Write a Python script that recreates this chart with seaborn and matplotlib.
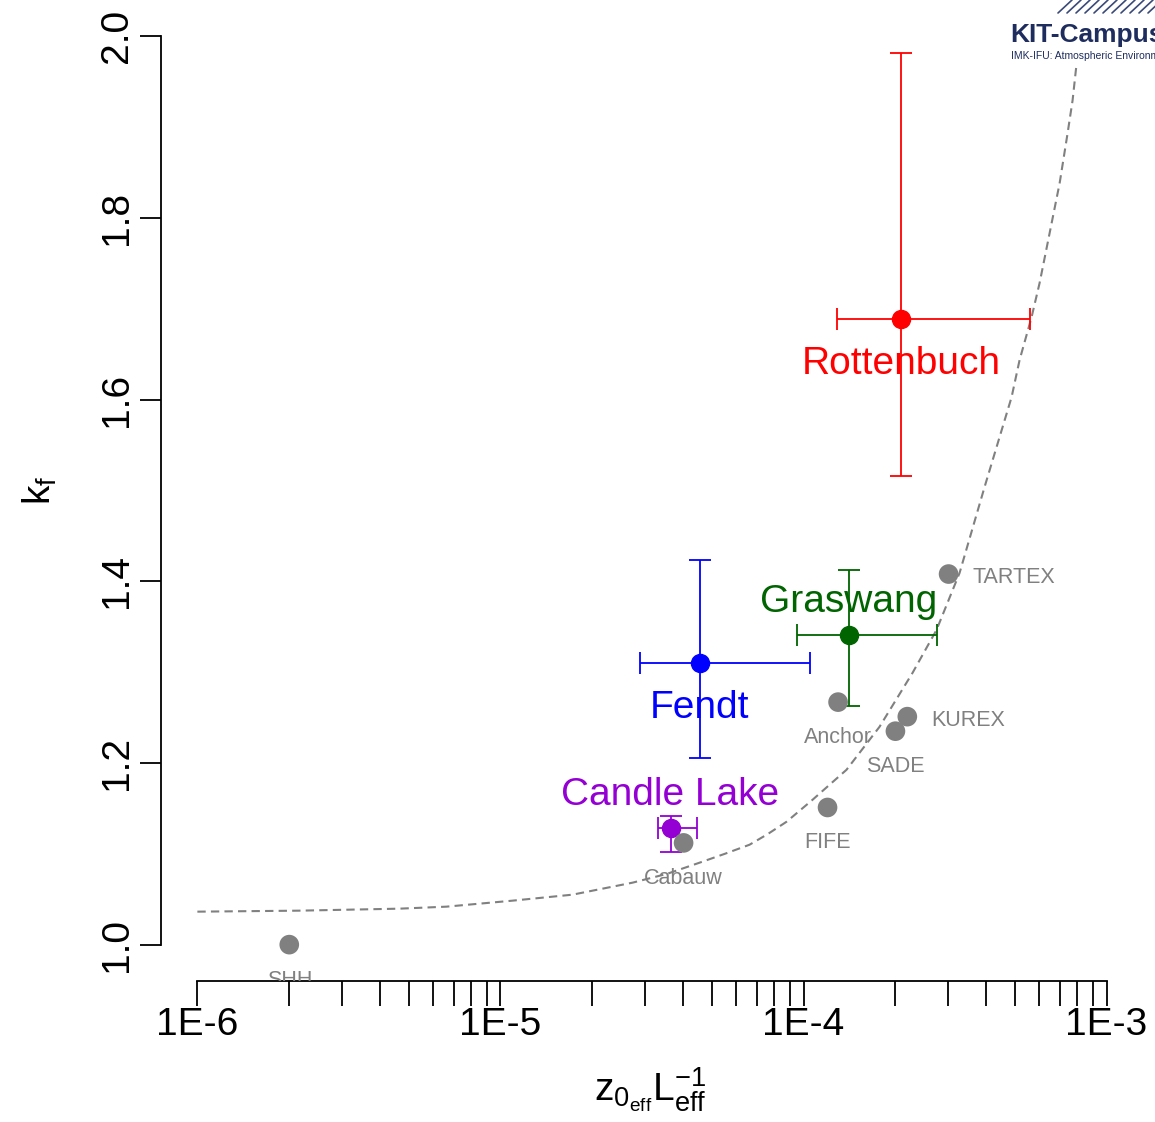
import numpy as np
import pandas as pd
import matplotlib
matplotlib.use("Agg")
import matplotlib.pyplot as plt
import seaborn as sns
from matplotlib.lines import Line2D

sns.set_style("white")
plt.rcParams['font.family'] = ['Liberation Sans', 'DejaVu Sans']
plt.rcParams['mathtext.default'] = 'regular'
plt.rcParams['text.color'] = 'black'
plt.rcParams['axes.labelcolor'] = 'black'
plt.rcParams['xtick.color'] = 'black'
plt.rcParams['ytick.color'] = 'black'

# eigene Standorte (mit Fehlerbalken)
sites = ['Rottenbuch', 'Graswang', 'Fendt', 'Candle Lake']
site_colors = ['#ff0000', '#006400', '#0000ff', '#9400d3']
site_z0L = [2.10e-4, 1.41e-4, 4.54e-5, 3.64e-5]
site_z0L_lo = [1.285e-4, 9.5e-5, 2.88e-5, 3.32e-5]
site_z0L_hi = [5.57e-4, 2.75e-4, 1.054e-4, 4.44e-5]
site_kf = [1.689, 1.341, 1.310, 1.128]
site_kf_lo = [1.516, 1.263, 1.206, 1.102]
site_kf_hi = [1.982, 1.4125, 1.4235, 1.142]
site_label_pos = ['below', 'above', 'below', 'above']

# Literaturwerte
lit = ['SHH', 'Cabauw', 'FIFE', 'Anchor', 'SADE', 'KUREX', 'TARTEX']
lit_z0L = [2.01e-6, 4.02e-5, 1.20e-4, 1.30e-4, 2.01e-4, 2.20e-4, 3.01e-4]
lit_kf = [1.000, 1.112, 1.151, 1.267, 1.235, 1.251, 1.408]
lit_label_pos = ['below', 'below', 'below', 'below', 'below', 'right', 'right']

# Kurve (gestrichelt)
curve_z0L = [1.0e-6, 2.17e-6, 4.64e-6, 6.63e-6, 1.095e-5, 1.728e-5, 2.726e-5,
             3.55e-5, 4.537e-5, 5.5e-5, 6.635e-5, 7.6e-5, 8.79e-5, 1.071e-4,
             1.386e-4, 1.781e-4, 2.289e-4, 2.747e-4, 3.272e-4, 3.957e-4,
             4.859e-4, 5.162e-4, 5.655e-4, 6.009e-4, 6.485e-4, 6.998e-4,
             7.434e-4, 7.722e-4, 7.962e-4]
curve_kf = [1.0363, 1.0374, 1.0396, 1.0418, 1.0484, 1.0550, 1.0682,
            1.0780, 1.0902, 1.1000, 1.1100, 1.1215, 1.1353, 1.1595,
            1.1925, 1.2398, 1.2992, 1.3465, 1.4092, 1.5039,
            1.6029, 1.6436, 1.6909, 1.7283, 1.7833, 1.8383,
            1.8933, 1.9296, 1.9703]

x_major = [1e-6, 1e-5, 1e-4, 1e-3]
x_major_labels = ['1E-6', '1E-5', '1E-4', '1E-3']
y_ticks = [1.0, 1.2, 1.4, 1.6, 1.8, 2.0]
y_tick_labels = ['1.0', '1.2', '1.4', '1.6', '1.8', '2.0']

fig = plt.figure(figsize=(11.55, 11.22), dpi=100)
ax = fig.add_axes([0.1394, 0.1257, 0.8502, 0.8743])
ax.set_xscale('log')
ax.set_xlim(10 ** -6.12, 10 ** -2.88)
ax.set_ylim(0.96, 2.04)

sns.lineplot(x=curve_z0L, y=curve_kf, sort=False, estimator=None, color='#808080',
             lw=1.5, linestyle=(0, (4, 2.5)), ax=ax, zorder=1)

for name, c, x, xlo, xhi, y, ylo, yhi in zip(sites, site_colors, site_z0L, site_z0L_lo,
                                              site_z0L_hi, site_kf, site_kf_lo, site_kf_hi):
    ax.errorbar([x], [y], xerr=[[x - xlo], [xhi - x]], yerr=[[y - ylo], [yhi - y]],
                fmt='o', color=c, mec=c, ms=13, elinewidth=1.3, capsize=8, capthick=1.3,
                zorder=2)

sns.scatterplot(x=lit_z0L, y=lit_kf, color='#808080', s=200, edgecolor='none',
                ax=ax, zorder=3)

for name, c, x, y, pos in zip(sites, site_colors, site_z0L, site_kf, site_label_pos):
    off = (0, -39.5) if pos == 'below' else (0, 16.5)
    ax.annotate(name, (x, y), xytext=off, textcoords='offset points', ha='center',
                va='baseline', fontsize=28, color=c, zorder=4)

for name, x, y, pos in zip(lit, lit_z0L, lit_kf, lit_label_pos):
    if pos == 'below':
        off, ha = (0, -29.5), 'center'
    else:
        off, ha = (17, -6.5), 'left'
    ax.annotate(name, (x, y), xytext=off, textcoords='offset points', ha=ha,
                va='baseline', fontsize=15.5, color='#808080', clip_on=True, zorder=4)

# Achsen im R-Stil
minor = [m * d for d in [1e-6, 1e-5, 1e-4] for m in range(2, 10)]
ax.set_xticks(x_major, x_major_labels)
ax.set_xticks(minor, minor=True)
ax.xaxis.set_minor_formatter(matplotlib.ticker.NullFormatter())
ax.tick_params(axis='x', which='both', bottom=True, length=18, width=1.3,
               direction='out', labelsize=28, pad=1)
ax.set_yticks(y_ticks, y_tick_labels)
ax.tick_params(axis='y', left=True, length=15, width=1.3, direction='out',
               labelsize=28, pad=4)
for lbl in ax.get_yticklabels():
    lbl.set_rotation(90)
    lbl.set_va('center')

for s in ['top', 'right']:
    ax.spines[s].set_visible(False)
ax.spines['left'].set_bounds(1.0, 2.0)
ax.spines['bottom'].set_bounds(1e-6, 1e-3)
for s in ['left', 'bottom']:
    ax.spines[s].set_linewidth(1.3)
    ax.spines[s].set_color('black')

ax.set_ylabel('$k_f$', fontsize=28, va='center')
ax.yaxis.set_label_coords(-0.123, 0.5)
ax.set_xlabel(r'$z_{0_{eff}}L_{eff}^{-1}$', fontsize=28, va='center')
ax.xaxis.set_label_coords(0.498, -0.111)

# Logo oben rechts (im Original am Rand abgeschnitten)
fig.text(1010 / 1155, 1 - 42 / 1122, 'KIT-Campus', fontsize=19, fontweight='bold',
         color='#1e2d5e', ha='left', va='baseline')
fig.text(1011 / 1155, 1 - 59 / 1122, 'IMK-IFU: Atmospheric Environment Research',
         fontsize=7.5, color='#1e2d5e', ha='left', va='baseline')
for k in range(12):
    x0 = 1058 + 9 * k
    fig.add_artist(Line2D([x0 / 1155, (x0 + 14) / 1155], [1 - 13 / 1122, 1.0],
                          transform=fig.transFigure, color='#3a4a78', lw=1.2))

fig.savefig('out.png', dpi=100)
